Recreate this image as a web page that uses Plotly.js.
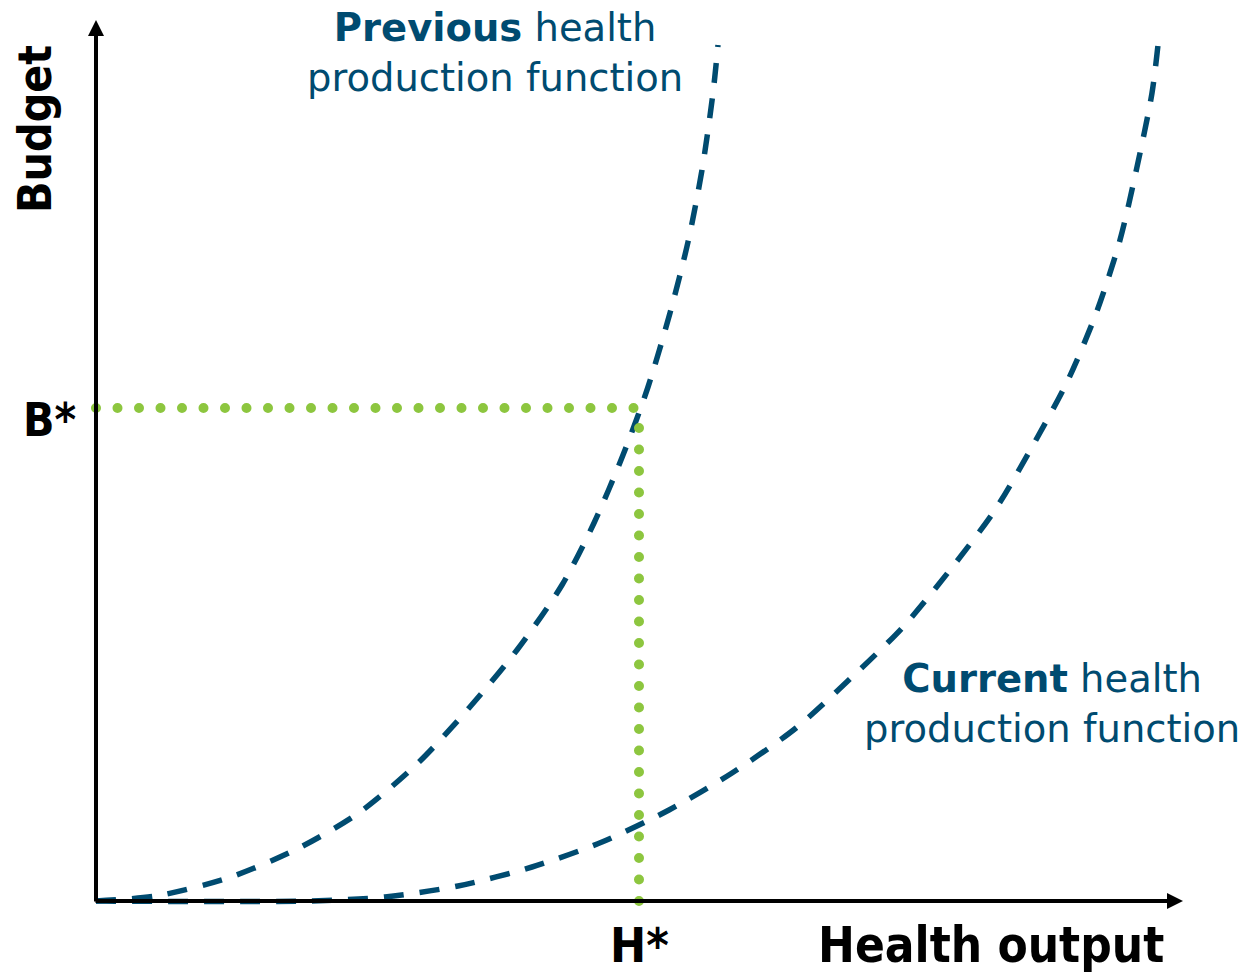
<!DOCTYPE html>
<html>
<head>
<meta charset="utf-8">
<script src="https://cdn.plot.ly/plotly-3.0.1.min.js"></script>
<style>html,body{margin:0;padding:0;background:#fff;overflow:hidden}</style>
</head>
<body>
<div id="chart" style="width:1248px;height:974px"></div>
<script>
// Values (units: health output / budget, origin at axes corner)
const previousOutput = [0, 60, 132, 201, 264, 322, 373, 421, 466, 498, 527, 552, 574, 592, 606, 617, 622];
const previousBudget = [0, 5, 23, 52, 89, 138, 193, 251, 316, 378, 446, 514, 588, 659, 731, 808, 856];
const currentOutput = [0, 214, 289, 362, 436, 506, 573, 636, 700, 755, 807, 854, 899, 936, 972, 1001, 1024, 1041, 1056, 1062];
const currentBudget = [0, 0, 4, 15, 34, 59, 91, 128, 173, 223, 274, 331, 391, 454, 521, 590, 661, 734, 808, 856];
const Hstar = 543;
const Bstar = 493;
const axisMaxX = 1087;
const axisMaxY = 881;

const blue = '#004B70';
const green = '#8DC63F';
const labelFont = 'DejaVu Sans, sans-serif';
const axisFont = 'DejaVu Sans Condensed, DejaVu Sans, sans-serif';

const traces = [
  {x: previousOutput, y: previousBudget, mode: 'lines', line: {color: blue, width: 5.5, dash: '20px,16px', shape: 'spline', smoothing: 0.8}, hoverinfo: 'skip'},
  {x: currentOutput, y: currentBudget, mode: 'lines', line: {color: blue, width: 5.5, dash: '20px,16px', shape: 'spline', smoothing: 0.8}, hoverinfo: 'skip'},
  {x: [0, Hstar], y: [Bstar, Bstar], mode: 'lines', line: {color: green, width: 10, dash: '0px,21.5px'}, hoverinfo: 'skip'},
  {x: [Hstar, Hstar], y: [0, Bstar], mode: 'lines', line: {color: green, width: 10, dash: '0px,21.5px'}, hoverinfo: 'skip'}
];

const layout = {
  width: 1248, height: 974,
  margin: {l: 0, r: 0, t: 0, b: 0},
  paper_bgcolor: '#fff', plot_bgcolor: '#fff',
  showlegend: false,
  xaxis: {range: [-96, 1152], visible: false, fixedrange: true},
  yaxis: {range: [-73, 901], visible: false, fixedrange: true},
  annotations: [
    {x: 0, y: axisMaxY, ax: 0, ay: -2, axref: 'x', ayref: 'y', xref: 'x', yref: 'y', text: '', showarrow: true, arrowhead: 2, arrowsize: 0.8, arrowwidth: 4, arrowcolor: '#000'},
    {x: axisMaxX, y: 0, ax: -2, ay: 0, axref: 'x', ayref: 'y', xref: 'x', yref: 'y', text: '', showarrow: true, arrowhead: 2, arrowsize: 0.8, arrowwidth: 4, arrowcolor: '#000'},
    {x: 399, y: 849, xref: 'x', yref: 'y', text: '<b>Previous</b> health<br>production function', showarrow: false, align: 'center', font: {family: labelFont, size: 38.5, color: blue}},
    {x: 956, y: 198, xref: 'x', yref: 'y', text: '<b>Current</b> health<br>production function', showarrow: false, align: 'center', font: {family: labelFont, size: 38.5, color: blue}},
    {x: -47, y: 481, xref: 'x', yref: 'y', text: '<b>B*</b>', showarrow: false, font: {family: axisFont, size: 46, color: '#000'}},
    {x: Hstar, y: -44, xref: 'x', yref: 'y', text: '<b>H*</b>', showarrow: false, font: {family: axisFont, size: 48, color: '#000'}},
    {x: 895, y: -44, xref: 'x', yref: 'y', text: '<b>Health output</b>', showarrow: false, font: {family: axisFont, size: 49, color: '#000'}},
    {x: -61, y: 772, xref: 'x', yref: 'y', text: '<b>Budget</b>', textangle: -90, showarrow: false, font: {family: axisFont, size: 46, color: '#000'}}
  ]
};

Plotly.newPlot('chart', traces, layout, {staticPlot: true}).then(function () {
  const tr = document.querySelectorAll('.scatterlayer .trace');
  [2, 3].forEach(function (i) {
    const p = tr[i] && tr[i].querySelector('path.js-line');
    if (p) p.style.strokeLinecap = 'round';
  });
});
</script>
</body>
</html>
